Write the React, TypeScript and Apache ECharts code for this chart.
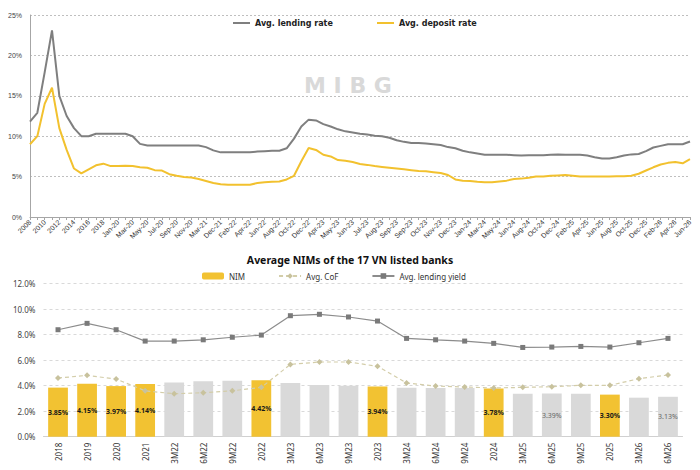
import React, { useEffect, useRef } from "react";
import * as echarts from "echarts";

const rateCategories = [
  "2008", "2009", "2010", "2011", "2012", "2013", "2014", "2015", "2016", "2017",
  "2018", "2019", "Jan-20", "Feb-20", "Mar-20", "Apr-20", "May-20", "Jun-20", "Jul-20", "Aug-20",
  "Sep-20", "Oct-20", "Nov-20", "Jan-21", "Mar-21", "Jun-21", "Dec-21", "Jan-22", "Feb-22", "Mar-22",
  "Apr-22", "May-22", "Jun-22", "Jul-22", "Aug-22", "Sep-22", "Oct-22", "Nov-22", "Dec-22", "Feb-23",
  "Apr-23", "Apr-23", "May-23", "May-23", "Jun-23", "Jun-23", "Jul-23", "Jul-23", "Aug-23", "Aug-23",
  "Sep-23", "Sep-23", "Sep-23", "Oct-23", "Oct-23", "Oct-23", "Nov-23", "Nov-23", "Dec-23", "Dec-23",
  "Jan-24", "Feb-24", "Mar-24", "Apr-24", "May-24", "May-24", "Jun-24", "Jul-24", "Aug-24", "Sep-24",
  "Oct-24", "Nov-24", "Dec-24", "Jan-25", "Feb-25", "Mar-25", "Apr-25", "May-25", "Jun-25", "Jul-25",
  "Aug-25", "Sep-25", "Oct-25", "Nov-25", "Dec-25", "Jan-26", "Feb-26", "Mar-26", "Apr-26", "May-26",
  "Jun-26",
];

const lendingRate = [
  11.8, 12.9, 17.9, 23.1, 15.0, 12.5, 11.0, 10.0, 10.0, 10.3,
  10.3, 10.3, 10.3, 10.3, 10.0, 9.05, 8.85, 8.85, 8.85, 8.85,
  8.85, 8.85, 8.85, 8.85, 8.65, 8.25, 8.0, 8.0, 8.0, 8.0,
  8.0, 8.1, 8.15, 8.2, 8.2, 8.5, 9.7, 11.2, 12.05, 11.95,
  11.5, 11.2, 10.85, 10.6, 10.45, 10.3, 10.2, 10.05, 10.0, 9.8,
  9.5, 9.3, 9.15, 9.15, 9.1, 9.0, 8.9, 8.65, 8.5, 8.2,
  8.0, 7.85, 7.7, 7.7, 7.7, 7.7, 7.65, 7.6, 7.65, 7.65,
  7.65, 7.7, 7.75, 7.7, 7.7, 7.7, 7.6, 7.4, 7.25, 7.25,
  7.4, 7.6, 7.75, 7.8, 8.15, 8.6, 8.8, 9.0, 9.0, 9.0,
  9.35,
];

const depositRate = [
  9.0, 10.0, 14.0, 16.0, 11.0, 8.3, 6.0, 5.4, 5.9, 6.4,
  6.6, 6.3, 6.3, 6.35, 6.3, 6.15, 6.1, 5.8, 5.75, 5.3,
  5.1, 4.95, 4.9, 4.7, 4.45, 4.2, 4.05, 4.0, 4.0, 4.0,
  4.0, 4.2, 4.3, 4.35, 4.4, 4.65, 5.1, 6.9, 8.55, 8.3,
  7.7, 7.5, 7.05, 6.95, 6.8, 6.55, 6.45, 6.3, 6.2, 6.1,
  6.0, 5.9, 5.8, 5.7, 5.65, 5.55, 5.45, 5.2, 4.65, 4.5,
  4.45, 4.35, 4.3, 4.3, 4.4, 4.5, 4.7, 4.75, 4.85, 5.0,
  5.0, 5.1, 5.15, 5.2, 5.1, 5.0, 5.0, 5.0, 5.0, 5.0,
  5.05, 5.05, 5.1, 5.35, 5.75, 6.15, 6.5, 6.7, 6.8, 6.65,
  7.15,
];

const rateTicks = [0, 5, 10, 15, 20, 25];

const nimCategories = [
  "2018", "2019", "2020", "2021", "3M22", "6M22", "9M22", "2022", "3M23", "6M23", "9M23",
  "2023", "3M24", "6M24", "9M24", "2024", "3M25", "6M25", "9M25", "2025", "3M26", "6M26",
];
const nimValues = [
  3.85, 4.15, 3.97, 4.14, 4.26, 4.34, 4.39, 4.42, 4.21, 4.05, 4.0,
  3.94, 3.84, 3.82, 3.82, 3.78, 3.37, 3.39, 3.37, 3.3, 3.06, 3.13,
];
const cofValues = [
  4.6, 4.81, 4.52, 3.6, 3.37, 3.45, 3.6, 3.87, 5.67, 5.86, 5.86,
  5.52, 4.21, 3.97, 3.9, 3.82, 3.87, 3.92, 4.03, 4.03, 4.55, 4.84,
];
const lendingYield = [
  8.39, 8.89, 8.39, 7.5, 7.5, 7.6, 7.8, 7.97, 9.49, 9.6, 9.39,
  9.07, 7.71, 7.6, 7.5, 7.32, 7.0, 7.03, 7.08, 7.03, 7.37, 7.71,
];
const fullYearCategories = ["2018", "2019", "2020", "2021", "2022", "2023", "2024", "2025"];
const labeledInterim = ["6M25", "6M26"];
const nimTicks = [0, 2, 4, 6, 8, 10, 12];

const GRAY = "#7f7f7f";
const YELLOW = "#f2c12e";
const NIM_YELLOW = "#f2c232";
const NIM_GRAY = "#d9d9d9";

export default function App() {
  const ref = useRef<HTMLDivElement>(null);

  useEffect(() => {
    document.body.style.margin = "0";
    if (!ref.current) return;
    const chart = echarts.init(ref.current, undefined, { renderer: "svg" });

    const nimData = nimValues.map((v, i) => {
      const cat = nimCategories[i];
      const full = fullYearCategories.includes(cat);
      const labeled = labeledInterim.includes(cat);
      return {
        value: v,
        itemStyle: { color: full ? NIM_YELLOW : NIM_GRAY },
        label: {
          show: full || labeled,
          position: "inside",
          fontSize: 7,
          fontFamily: "Noto Sans",
          fontWeight: full ? "bold" : "normal",
          color: full ? "#1a1a1a" : "#666666",
          formatter: (p: any) => p.value.toFixed(2) + "%",
        },
      };
    });

    const topLegendText = { fontSize: 8, fontWeight: "bold", fontFamily: "DejaVu Sans", color: "#222" };

    const option: any = {
      animation: false,
      backgroundColor: "#ffffff",
      graphic: [
        {
          type: "text",
          left: 304,
          top: 74,
          style: {
            text: "M I B G",
            font: "bold 22px 'DejaVu Sans'",
            fill: "#d9d9d9",
          },
        },
      ],
      title: {
        text: "Average NIMs of the 17 VN listed banks",
        left: "center",
        top: 254,
        padding: 0,
        textStyle: { fontSize: 10.5, fontWeight: "bold", fontFamily: "Noto Sans", color: "#111" },
      },
      legend: [
        {
          data: [{ name: "Avg. lending rate", icon: "rect", itemStyle: { color: GRAY } }],
          left: 233,
          top: 19,
          padding: 0,
          itemWidth: 17,
          itemHeight: 2,
          textStyle: topLegendText,
        },
        {
          data: [{ name: "Avg. deposit rate", icon: "rect", itemStyle: { color: YELLOW } }],
          left: 377,
          top: 19,
          padding: 0,
          itemWidth: 17,
          itemHeight: 2,
          textStyle: topLegendText,
        },
        {
          data: ["NIM", "Avg. CoF", "Avg. lending yield"],
          left: 202,
          top: 272,
          padding: 0,
          itemGap: 33,
          itemWidth: 22,
          itemHeight: 7,
          textStyle: { fontSize: 8, fontFamily: "Noto Sans", color: "#333" },
        },
      ],
      grid: [
        { left: 30, right: 10, top: 15, bottom: 253 },
        { left: 43.5, right: 17.5, top: 283.7, bottom: 33.3 },
      ],
      xAxis: [
        {
          type: "category",
          gridIndex: 0,
          data: rateCategories,
          boundaryGap: false,
          axisLine: { lineStyle: { color: "#a6a6a6" } },
          axisTick: { show: true, interval: 0, length: 3, lineStyle: { color: "#a6a6a6" } },
          axisLabel: {
            interval: 1,
            rotate: 45,
            fontSize: 7,
            fontFamily: "Liberation Sans",
            color: "#333",
            margin: 4,
          },
        },
        {
          type: "category",
          gridIndex: 1,
          data: nimCategories,
          axisLine: { lineStyle: { color: "#d0d0d0" } },
          axisTick: { show: false },
          axisLabel: {
            interval: 0,
            rotate: 90,
            fontSize: 8,
            fontFamily: "Noto Sans",
            color: "#333",
            margin: 6,
          },
        },
      ],
      yAxis: [
        {
          type: "value",
          gridIndex: 0,
          min: rateTicks[0],
          max: rateTicks[rateTicks.length - 1],
          interval: 5,
          axisLine: { show: true, lineStyle: { color: "#a6a6a6" } },
          axisTick: { show: false },
          splitLine: { lineStyle: { type: [2, 2], color: "#bfbfbf" } },
          axisLabel: {
            formatter: "{value}%",
            fontSize: 7,
            fontFamily: "Liberation Sans",
            color: "#444",
          },
        },
        {
          type: "value",
          gridIndex: 1,
          min: nimTicks[0],
          max: nimTicks[nimTicks.length - 1],
          interval: 2,
          axisLine: { show: false },
          axisTick: { show: false },
          splitLine: { lineStyle: { type: [3, 3], color: "#d9d9d9" } },
          axisLabel: {
            formatter: (v: number) => v.toFixed(1) + "%",
            fontSize: 8,
            fontFamily: "Noto Sans",
            color: "#444",
          },
        },
      ],
      series: [
        {
          name: "Avg. lending rate",
          type: "line",
          xAxisIndex: 0,
          yAxisIndex: 0,
          data: lendingRate,
          symbol: "none",
          lineStyle: { color: GRAY, width: 2 },
          itemStyle: { color: GRAY },
        },
        {
          name: "Avg. deposit rate",
          type: "line",
          xAxisIndex: 0,
          yAxisIndex: 0,
          data: depositRate,
          symbol: "none",
          lineStyle: { color: YELLOW, width: 2 },
          itemStyle: { color: YELLOW },
        },
        {
          name: "NIM",
          type: "bar",
          xAxisIndex: 1,
          yAxisIndex: 1,
          data: nimData,
          barWidth: "68%",
          itemStyle: { color: NIM_YELLOW },
        },
        {
          name: "Avg. CoF",
          type: "line",
          xAxisIndex: 1,
          yAxisIndex: 1,
          data: cofValues,
          symbol: "diamond",
          symbolSize: 6,
          lineStyle: { color: "#d3cda9", width: 1.2, type: [4, 3] },
          itemStyle: { color: "#c8c29d" },
        },
        {
          name: "Avg. lending yield",
          type: "line",
          xAxisIndex: 1,
          yAxisIndex: 1,
          data: lendingYield,
          symbol: "rect",
          symbolSize: 5,
          lineStyle: { color: "#8c8c8c", width: 1.2 },
          itemStyle: { color: "#7a7a7a" },
        },
      ],
    };

    chart.setOption(option);
    return () => chart.dispose();
  }, []);

  return <div ref={ref} style={{ width: 700, height: 470 }} />;
}
